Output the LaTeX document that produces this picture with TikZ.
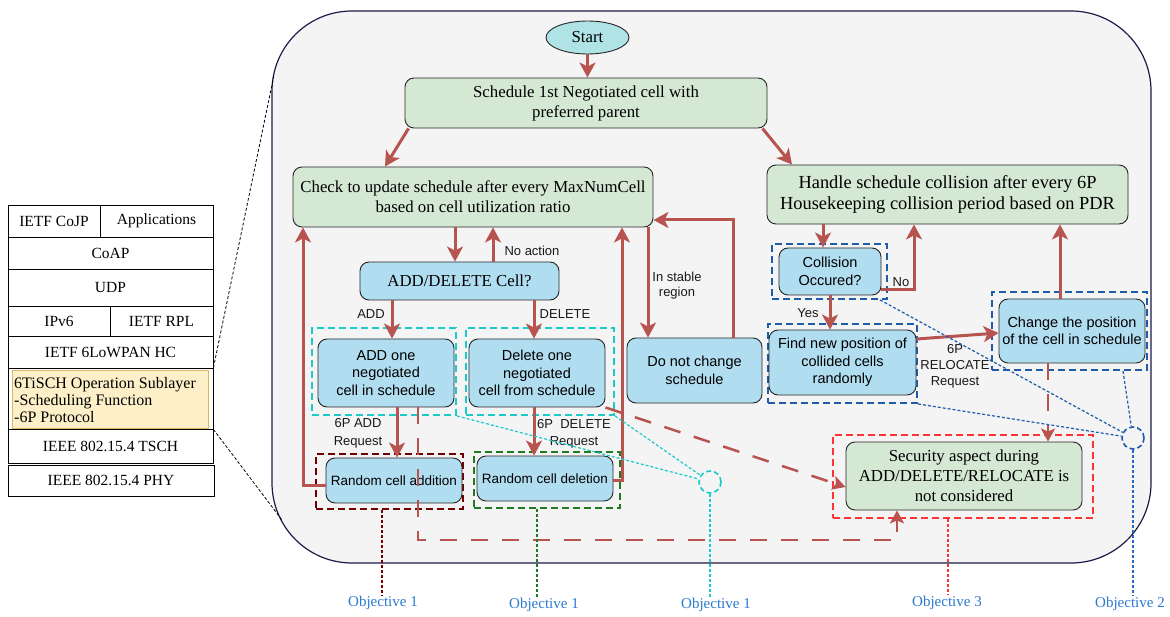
\documentclass[tikz,border=0pt]{standalone}
\usepackage{fontspec}
\setmainfont{Liberation Serif}
\setsansfont{Liberation Sans}
\usetikzlibrary{arrows.meta,shapes.geometric}
\definecolor{redc}{HTML}{B85450}
\definecolor{boxgreen}{HTML}{D5E8D4}
\definecolor{boxblue}{HTML}{B1DDF0}
\definecolor{startc}{HTML}{B0E3E6}
\definecolor{cyanc}{HTML}{1CCACA}
\definecolor{maroonc}{HTML}{700000}
\definecolor{greenc}{HTML}{1F7A1F}
\definecolor{bluec}{HTML}{1E5BA8}
\definecolor{objblue}{HTML}{2568C8}
\definecolor{redsec}{HTML}{FF3333}
\definecolor{objc}{HTML}{2A7AD0}
\definecolor{panelf}{HTML}{F4F4F4}
\definecolor{paneld}{HTML}{1C1C48}
\definecolor{yelf}{HTML}{FDF0C8}
\definecolor{yeld}{HTML}{D9B86A}
\newcommand{\fsz}[2]{\fontsize{#1}{#2}\selectfont}
\begin{document}
\begin{tikzpicture}[x=1pt,y=-1pt,
  ser/.style={font=\fsz{16.8}{20}},
  gbox/.style={draw=black!85, line width=0.9pt, fill=boxgreen, rounded corners=9pt, align=center, inner sep=0pt, ser},
  bbox/.style={draw=black!85, line width=0.9pt, fill=boxblue, rounded corners=9pt, align=center, inner sep=0pt, font=\sffamily\fsz{14.5}{17.5}},
  rbox/.style={bbox, font=\sffamily\fsz{13.5}{16}, minimum width=136pt, minimum height=45pt},
  dbox/.style={line width=1.9pt, dash pattern=on 7pt off 4pt, inner sep=0pt},
  arr/.style={draw=redc, line width=3pt, -{Stealth[length=15pt,width=16pt,inset=4pt]}},
  darr/.style={draw=redc, line width=2.5pt, dash pattern=on 17pt off 14pt, -{Stealth[length=13pt,width=14pt,inset=3pt]}},
  thind/.style={line width=1.2pt, dash pattern=on 3pt off 2pt},
  ring/.style={circle, line width=1.6pt, dash pattern=on 5pt off 3pt, minimum size=22pt, inner sep=0pt},
  lbl/.style={font=\sffamily\fsz{13}{16}, align=center, inner sep=1pt, text=black!90},
  objl/.style={font=\fsz{15}{17}, text=objc, inner sep=1pt},
  stk/.style={draw=black, line width=0.9pt, inner sep=0pt, font=\fsz{15.5}{17}}
]
\useasboundingbox (0,0) rectangle (1170,617);
\fill[white] (0,0) rectangle (1170,617);

% big panel
\node[draw=paneld, fill=panelf, line width=1.2pt, rounded corners=80pt, minimum width=879pt, minimum height=552pt, inner sep=0pt] (panel) at (711.5,287) {};

% protocol stack
\node[stk, minimum width=92pt, minimum height=32pt] (r1a) at (54,221) {IETF CoJP};
\node[stk, minimum width=113pt, minimum height=32pt] (r1b) at (156.5,221) {Applications};
\node[stk, minimum width=205pt, minimum height=32pt] (r2) at (110.5,253) {CoAP};
\node[stk, minimum width=205pt, minimum height=37pt] (r3) at (110.5,287.5) {UDP};
\node[stk, minimum width=102pt, minimum height=30pt] (r4a) at (59,321) {IPv6};
\node[stk, minimum width=103pt, minimum height=30pt] (r4b) at (161.5,321) {IETF RPL};
\node[stk, minimum width=205pt, minimum height=32pt] (r5) at (110.5,352) {IETF 6LoWPAN HC};
\node[stk, minimum width=205pt, minimum height=61pt] (r6) at (110.5,398.5) {};
\node[draw=yeld, fill=yelf, line width=0.8pt, minimum width=196pt, minimum height=58pt, inner sep=0pt] (tisch) at (110,399) {};
\node[font=\fsz{16}{17}, align=left, anchor=west, inner sep=0pt] (tischt) at (14,400) {6TiSCH Operation Sublayer\\-Scheduling Function\\-6P Protocol};
\node[stk, minimum width=205pt, minimum height=34pt] (r7) at (110.5,446) {IEEE 802.15.4 TSCH};
\node[stk, minimum width=206pt, minimum height=31pt] (r8) at (111,480.5) {IEEE 802.15.4 PHY};

\coordinate (pu) at (274,75);
\coordinate (pl) at (282,520);
\draw[line width=0.8pt, dash pattern=on 3pt off 2pt] (r6.north east) -- (pu);
\draw[line width=0.8pt, dash pattern=on 3pt off 2pt] (r6.south east) -- (pl);

% dashed group boxes
\node[dbox, draw=cyanc, minimum width=144pt, minimum height=87pt] (cyA) at (384,371.5) {};
\node[dbox, draw=cyanc, minimum width=148pt, minimum height=87pt] (cyD) at (540,371.5) {};
\node[dbox, draw=maroonc, minimum width=147pt, minimum height=55pt] (mrR) at (389.5,481.5) {};
\node[dbox, draw=greenc, minimum width=146pt, minimum height=56pt] (grR) at (547,480) {};
\node[dbox, draw=bluec, minimum width=115pt, minimum height=55pt] (blC) at (829.5,271.5) {};
\node[dbox, draw=bluec, minimum width=149pt, minimum height=79pt] (blF) at (842.5,363.5) {};
\node[dbox, draw=bluec, minimum width=155pt, minimum height=78pt] (blCh) at (1069.5,331) {};
\node[dbox, draw=redsec, minimum width=260pt, minimum height=83pt] (rdS) at (963,476.5) {};

% flow nodes
\node[ellipse, draw=black!85, line width=0.9pt, fill=startc, minimum width=83pt, minimum height=33pt, inner sep=0pt, ser] (start) at (587.5,37.5) {Start};
\node[gbox, minimum width=362pt, minimum height=50pt] (sched) at (586,103) {Schedule 1st Negotiated cell with\\preferred parent};
\node[gbox, minimum width=360pt, minimum height=60pt] (check) at (473,197) {Check to update schedule after every MaxNumCell\\based on cell utilization ratio};
\node[gbox, minimum width=361pt, minimum height=59pt, font=\fsz{18.4}{20.5}] (handle) at (947.5,194.5) {Handle schedule collision after every 6P\\Housekeeping collision period based on PDR};
\node[bbox, ser, minimum width=199pt, minimum height=38pt] (adddel) at (459.5,281) {ADD/DELETE Cell?};
\node[bbox, minimum width=136pt, minimum height=68pt] (addone) at (386,373) {ADD one\\negotiated\\cell in schedule};
\node[bbox, minimum width=136pt, minimum height=68pt] (delone) at (537,373) {Delete one\\negotiated\\cell from schedule};
\node[rbox] (randadd) at (394,480.5) {Random cell addition};
\node[rbox] (randdel) at (545,478.5) {Random cell deletion};
\node[bbox, minimum width=135pt, minimum height=65pt] (nochange) at (694.5,370.5) {Do not change\\schedule};
\node[bbox, minimum width=102pt, minimum height=47pt] (collision) at (830,271.5) {Collision\\Occured?};
\node[bbox, minimum width=147pt, minimum height=65pt] (findnew) at (842.5,362.5) {Find new position of\\collided cells\\randomly};
\node[bbox, minimum width=146pt, minimum height=64pt] (change) at (1072,331) {Change the position\\of the cell in schedule};
\node[gbox, minimum width=236pt, minimum height=68pt] (security) at (964,476) {Security aspect during\\ADD/DELETE/RELOCATE is\\not considered};

% red solid arrows
\draw[arr] (start.south) -- (start.south |- sched.north);
\draw[arr] ([xshift=4pt]sched.south west) -- (385,0 |- check.north);
\draw[arr] ([xshift=-5pt]sched.south east) -- (792,0 |- handle.north);
\draw[arr] (455,0 |- check.south) -- (455,0 |- adddel.north);
\draw[arr] (493,0 |- adddel.north) -- (493,0 |- check.south);
\draw[arr] (392,0 |- adddel.south) -- (392,0 |- addone.north);
\draw[arr] (534,0 |- adddel.south) -- (534,0 |- delone.north);
\draw[arr] (397,0 |- addone.south) -- (397,0 |- randadd.north);
\draw[arr] (534,0 |- delone.south) -- (534,0 |- randdel.north);
\draw[arr] (randadd.west |- 0,485) -| (303,0 |- check.south);
\draw[arr] (randdel.east |- 0,480) -| (622,0 |- check.south);
\draw[arr] (648,0 |- check.south) -- (648,0 |- nochange.north);
\draw[arr] (733,0 |- nochange.north) |- (check.east |- 0,220);
\draw[arr] (823,0 |- handle.south) -- (823,0 |- collision.north);
\draw[arr] (collision.east |- 0,290) -| (914,0 |- handle.south);
\draw[arr] (830,0 |- collision.south) -- (830,0 |- findnew.north);
\draw[arr] (findnew.east |- 0,339) -- (change.west |- 0,333);
\draw[arr] (1060,0 |- change.north) -- (1060,0 |- handle.south);

% red dashed arrows
\coordinate (dcorner) at (897,540);
\draw[darr] (1048,0 |- change.south) -- (1048,0 |- security.north);
\draw[darr] (delone.south east) -- (security.west |- 0,487);
\draw[darr] (418,0 |- addone.south) |- (dcorner) -- (dcorner |- security.south);

% edge labels
\node[lbl] (lADD) at (371,314) {ADD};
\node[lbl] (lDEL) at (565,314) {DELETE};
\node[lbl] (lNoA) at (532,251) {No action};
\node[lbl, font=\sffamily\fsz{13}{15}] (lstab) at (677,286) {In stable\\region};
\node[lbl] (lNo) at (901,282) {No};
\node[lbl] (lYes) at (808,313) {Yes};
\node[lbl, font=\sffamily\fsz{13}{18}] (l6pa) at (358,433) {6P ADD\\Request};
\node[lbl, font=\sffamily\fsz{13}{17}] (l6pd) at (574,434) {6P~ DELETE\\Request};
\node[lbl] (l6pr) at (955,366) {6P\\RELOCATE\\Request};

% objective rings and labels
\node[ring, draw=cyanc] (cyc) at (710,482) {};
\node[ring, draw=bluec] (buc) at (1133,438) {};
\node[objl] (o1a) at (383,603) {Objective 1};
\node[objl] (o1b) at (544,605) {Objective 1};
\node[objl] (o1c) at (716,605) {Objective 1};
\node[objl] (o3) at (947,603) {Objective 3};
\node[objl] (o2) at (1130,604) {Objective 2};

\draw[thind, draw=maroonc] (382,0 |- mrR.south) -- (382,0 |- o1a.north);
\draw[thind, draw=greenc] (537,0 |- grR.south) -- (537,0 |- o1b.north);
\draw[thind, draw=cyanc] (cyA.south east) -- (cyc);
\draw[thind, draw=cyanc] (cyD.south east) -- (cyc);
\draw[thind, draw=cyanc] (cyc.south) -- (cyc.south |- o1c.north);
\draw[thind, draw=redsec] (948,0 |- rdS.south) -- (948,0 |- o3.north);
\draw[thind, draw=bluec] (880,0 |- blC.south) -- (buc);
\draw[thind, draw=bluec] (blF.south east) -- (buc);
\draw[thind, draw=bluec] (1123,0 |- blCh.south) -- (buc);
\draw[thind, draw=objblue] (buc.south) -- (buc.south |- o2.north);
\end{tikzpicture}
\end{document}
